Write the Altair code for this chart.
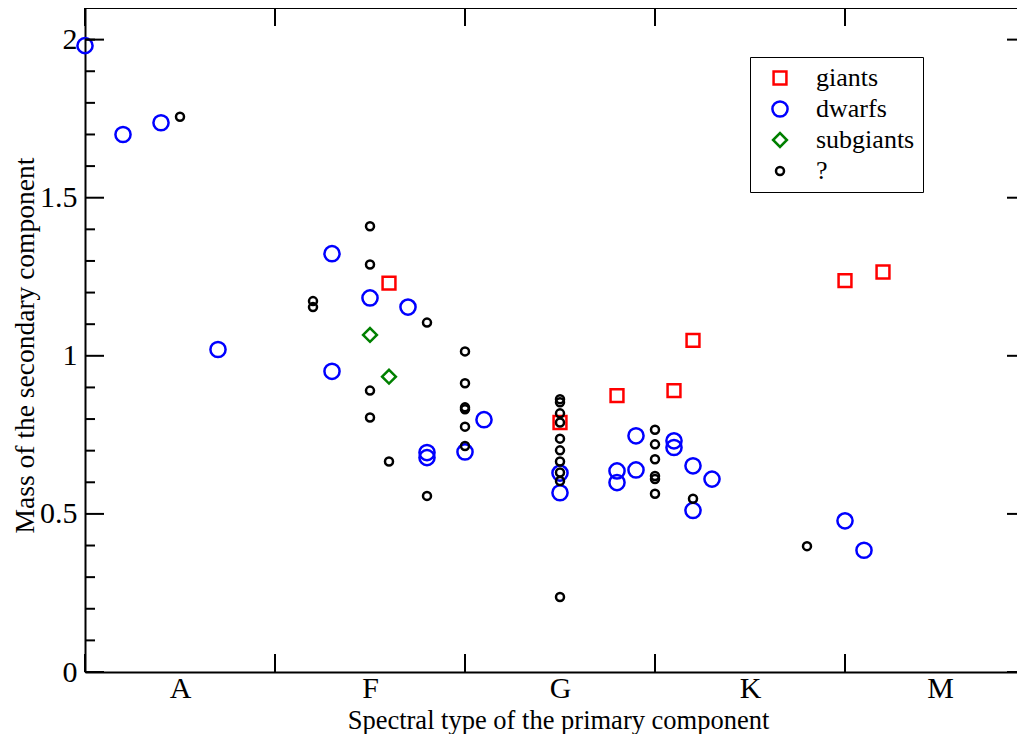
import json
import altair as alt
import pandas as pd

# ---- data ----
types = ["giants", "dwarfs", "subgiants", "?"]
type_colors = ["#ff0000", "#0000ff", "#008000", "#000000"]
type_shapes = ["square", "circle", "diamond", "circle"]
type_sizes = [165, 230, 190, 64]

giants_x = [16, 25, 28, 31, 32, 40, 42]
giants_y = [1.230, 0.789, 0.874, 0.890, 1.049, 1.238, 1.265]

dwarfs_x = [0, 2, 4, 7, 13, 13, 15, 17, 18, 18, 20, 21, 25, 25, 28, 28, 29, 29,
            31, 31, 32, 32, 33, 40, 41]
dwarfs_y = [1.981, 1.700, 1.737, 1.020, 1.323, 0.951, 1.183, 1.154, 0.694, 0.678,
            0.696, 0.798, 0.629, 0.567, 0.636, 0.599, 0.747, 0.639, 0.731, 0.710,
            0.652, 0.511, 0.610, 0.478, 0.385]

subgiants_x = [15, 16]
subgiants_y = [1.066, 0.934]

unknown_x = [5, 12, 12, 15, 15, 15, 15, 16, 18, 18, 20, 20, 20, 20, 20, 20,
             25, 25, 25, 25, 25, 25, 25, 25, 25, 25, 30, 30, 30, 30, 30, 30, 32, 38]
unknown_y = [1.756, 1.173, 1.154, 1.410, 1.289, 0.890, 0.805, 0.666, 1.105, 0.557,
             1.014, 0.913, 0.837, 0.831, 0.776, 0.715, 0.863, 0.853, 0.818, 0.789,
             0.738, 0.701, 0.666, 0.631, 0.604, 0.237, 0.766, 0.720, 0.673, 0.620,
             0.610, 0.564, 0.548, 0.398]

spectral_labels = ["A", "F", "G", "K", "M"]
spectral_label_pos = [5, 15, 25, 35, 45]
x_major_ticks = [0, 10, 20, 30, 40]
y_label_ticks = [0, 0.5, 1, 1.5, 2]
y_minor_ticks = [0.1, 0.2, 0.3, 0.4, 0.6, 0.7, 0.8, 0.9, 1.1, 1.2, 1.3, 1.4,
                 1.6, 1.7, 1.8, 1.9, 2.0]

# ---- build table ----
rows = []
order = 0
for t, xs, ys in [("giants", giants_x, giants_y), ("dwarfs", dwarfs_x, dwarfs_y),
                  ("subgiants", subgiants_x, subgiants_y), ("?", unknown_x, unknown_y)]:
    for xv, yv in zip(xs, ys):
        rows.append({"x": xv, "y": yv, "type": t, "ord": order})
        order += 1
df = pd.DataFrame(rows)

W, H = 932, 664
PX_PER_UNIT = 19.0
FONT = "Liberation Serif"
TICK_FS = 30

xscale = alt.Scale(domain=[0, W / PX_PER_UNIT], nice=False, zero=False)
yscale = alt.Scale(domain=[0, 2.1], nice=False, zero=False)

label_expr = "%s[round((datum.value - 5) / 10)]" % json.dumps(spectral_labels)

xaxis = alt.Axis(
    values=spectral_label_pos, labelExpr=label_expr, ticks=False, tickSize=0,
    domain=True, domainColor="black", domainWidth=2, grid=False,
    labelFont=FONT, labelFontSize=TICK_FS, labelColor="black",
    labelBaseline="alphabetic", labelPadding=25,
    title="Spectral type of the primary component", titleFont=FONT,
    titleFontSize=26.5, titleFontWeight="normal", titleColor="black",
    titleBaseline="alphabetic", titleX=475 - 2, titleY=56, titleAlign="center")
yaxis = alt.Axis(
    values=y_label_ticks, format="~g", ticks=False, tickSize=0,
    domain=True, domainColor="black", domainWidth=2, grid=False,
    labelFont=FONT, labelFontSize=TICK_FS, labelColor="black", labelPadding=8,
    title="Mass of the secondary component", titleFont=FONT, titleFontSize=27.5,
    titleFontWeight="normal", titleColor="black", titleAngle=270,
    titleBaseline="alphabetic", titleX=-52, titleY=337, titleAlign="center")

legend = alt.Legend(
    title=None, orient="none", legendX=665, legendY=49,
    fillColor="white", strokeColor="black",
    padding=8, symbolOffset=9, labelOffset=23, rowPadding=5,
    labelFont=FONT, labelFontSize=26, labelColor="black",
    symbolStrokeWidth=2.5, symbolFillColor="transparent",
)

X = lambda: alt.X("x:Q", scale=xscale, axis=xaxis)
Y = lambda: alt.Y("y:Q", scale=yscale, axis=yaxis)

points = alt.Chart(df).mark_point(filled=False, strokeWidth=2.5, opacity=1).encode(
    x=X(), y=Y(),
    color=alt.Color("type:N", scale=alt.Scale(domain=types, range=type_colors), legend=legend),
    shape=alt.Shape("type:N", scale=alt.Scale(domain=types, range=type_shapes), legend=legend),
    size=alt.Size("type:N", scale=alt.Scale(type="ordinal", domain=types, range=type_sizes),
                  legend=legend),
    order=alt.Order("ord:Q"),
)

# inward ticks (left, right, bottom, top) and the top frame line
ymaj_df = pd.DataFrame({"y": y_label_ticks})
ymin_df = pd.DataFrame({"y": y_minor_ticks})
xmaj_df = pd.DataFrame({"x": x_major_ticks})
one_df = pd.DataFrame({"k": [0]})

rule_style = dict(color="black", strokeWidth=2)
left_major = alt.Chart(ymaj_df).mark_rule(**rule_style).encode(
    y=Y(), x=alt.value(0), x2=alt.value(19))
left_minor = alt.Chart(ymin_df).mark_rule(**rule_style).encode(
    y=Y(), x=alt.value(0), x2=alt.value(10))
right_major = alt.Chart(ymaj_df).mark_rule(**rule_style).encode(
    y=Y(), x=alt.value(W - 10), x2=alt.value(W))
bottom_major = alt.Chart(xmaj_df).mark_rule(**rule_style).encode(
    x=X(), y=alt.value(H - 18), y2=alt.value(H))
top_major = alt.Chart(xmaj_df).mark_rule(**rule_style).encode(
    x=X(), y=alt.value(0), y2=alt.value(18))
top_line = alt.Chart(one_df).mark_rule(**rule_style).encode(
    x=alt.value(0), x2=alt.value(W), y=alt.value(0))

chart = alt.layer(
    points, left_major, left_minor, right_major, bottom_major, top_major, top_line
).properties(
    width=W, height=H,
    autosize=alt.AutoSizeParams(type="none"),
    padding={"left": 77, "top": 0, "right": 0, "bottom": 62},
    background="white",
).configure_view(stroke=None).configure_axis(
    labelFont=FONT, labelFontSize=TICK_FS, labelColor="black"
)

chart.save("out.html", embed_options={"renderer": "svg", "actions": False})
